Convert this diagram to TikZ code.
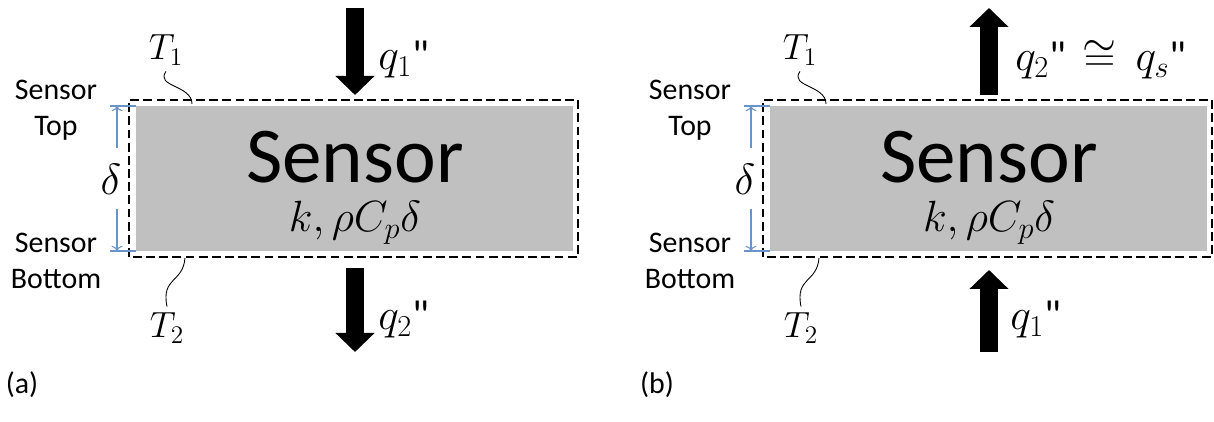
\documentclass[tikz,border=0pt]{standalone}
\usepackage{fontspec}
\setmainfont{Carlito}
\newfontfamily\dittofont{Carlito}[Ligatures=TeXOff]
\usepackage{amsmath}
\usepackage{amssymb}
\usetikzlibrary{positioning, calc, arrows.meta}

\newcommand{\ditto}{{\dittofont"}}

\begin{document}
\begin{tikzpicture}[
  font=\fontsize{17}{20.4}\selectfont,
  fluxarrow/.style={line width=0.36cm, -{Triangle[width=0.76cm, length=0.38cm]}},
  dimline/.style={cdim, line width=0.6pt},
  mathlbl/.style={font=\fontsize{24}{28}\selectfont},
  sidelbl/.style={align=center},
  bigname/.style={font=\fontsize{45}{50}\selectfont, inner sep=0},
]
\definecolor{cfill}{HTML}{C0C0C0}   % sensor body
\definecolor{cdim}{HTML}{6A93C9}    % thickness marker

\useasboundingbox (0,0) rectangle (24.28,8.44);

% =====================================================================
% (a) heat flux going down through the sensor
% =====================================================================
\begin{scope}[shift={(0,0)}]
  % sensor body and control surface
  \fill[cfill] (2.72,3.42) rectangle (11.46,6.32);
  \draw[black, line width=1.1pt, dash pattern=on 5pt off 2.5pt] (2.58,3.30) rectangle (11.56,6.44);

  \node[bigname] (nameA) at (7.10,5.30) {Sensor};
  \node[font=\fontsize{23}{26}\selectfont, inner sep=0] (propA) at (7.10,3.98) {$k,\rho C_p\delta$};

  % thickness delta
  \coordinate (dTopA) at (2.34,6.32);
  \coordinate (dBotA) at (2.34,3.42);
  \coordinate (gTopA) at (2.34,5.48);
  \coordinate (gBotA) at (2.34,4.26);
  \draw[dimline] (2.20,6.32) -- (2.72,6.32);
  \draw[dimline] (2.20,3.42) -- (2.72,3.42);
  \draw[dimline, -{To[length=3pt]}] (gTopA) -- (dTopA);
  \draw[dimline, -{To[length=3pt]}] (gBotA) -- (dBotA);
  \node[font=\fontsize{26}{30}\selectfont] (deltaA) at (2.22,4.86) {$\delta$};

  % side labels
  \node[sidelbl] (sTopA) at (1.12,6.24) {Sensor\\Top};
  \node[sidelbl] (sBotA) at (1.12,3.22) {Sensor\\Bottom};

  % surface temperatures
  \node[font=\fontsize{22}{26}\selectfont] (t1A) at (3.32,7.44) {$T_1$};
  \node[font=\fontsize{22}{26}\selectfont] (t2A) at (3.34,1.88) {$T_2$};
  \draw[line width=0.5pt] (t1A.south) .. controls (3.10,6.70) and (3.84,6.74) .. (3.84,6.36);
  \draw[line width=0.5pt] (3.70,3.28) .. controls (3.66,2.78) and (3.22,2.90) .. (t2A.north);

  % heat flux arrows
  \coordinate (inTopA) at (7.10,8.28);
  \coordinate (inTipA) at (7.10,6.54);
  \coordinate (outTopA) at (7.10,3.08);
  \coordinate (outTipA) at (7.10,1.40);
  \draw[fluxarrow] (inTopA) -- (inTipA);
  \draw[fluxarrow] (outTopA) -- (outTipA);
  \node[mathlbl, anchor=west, inner sep=0] (q1A) at (7.56,7.24) {$q_1$\ditto};
  \node[mathlbl, anchor=west, inner sep=0] (q2A) at (7.56,2.04) {$q_2$\ditto};

  \node (capA) at (0.44,0.74) {(a)};
\end{scope}

% =====================================================================
% (b) heat flux going up through the sensor
% =====================================================================
\begin{scope}[shift={(12.68,0)}]
  \fill[cfill] (2.72,3.42) rectangle (11.46,6.32);
  \draw[black, line width=1.1pt, dash pattern=on 5pt off 2.5pt] (2.58,3.30) rectangle (11.56,6.44);

  \node[bigname] (nameB) at (7.10,5.30) {Sensor};
  \node[font=\fontsize{23}{26}\selectfont, inner sep=0] (propB) at (7.10,3.98) {$k,\rho C_p\delta$};

  \coordinate (dTopB) at (2.34,6.32);
  \coordinate (dBotB) at (2.34,3.42);
  \coordinate (gTopB) at (2.34,5.48);
  \coordinate (gBotB) at (2.34,4.26);
  \draw[dimline] (2.20,6.32) -- (2.72,6.32);
  \draw[dimline] (2.20,3.42) -- (2.72,3.42);
  \draw[dimline, -{To[length=3pt]}] (gTopB) -- (dTopB);
  \draw[dimline, -{To[length=3pt]}] (gBotB) -- (dBotB);
  \node[font=\fontsize{26}{30}\selectfont] (deltaB) at (2.22,4.86) {$\delta$};

  \node[sidelbl] (sTopB) at (1.12,6.24) {Sensor\\Top};
  \node[sidelbl] (sBotB) at (1.12,3.22) {Sensor\\Bottom};

  \node[font=\fontsize{22}{26}\selectfont] (t1B) at (3.32,7.44) {$T_1$};
  \node[font=\fontsize{22}{26}\selectfont] (t2B) at (3.34,1.88) {$T_2$};
  \draw[line width=0.5pt] (t1B.south) .. controls (3.10,6.70) and (3.84,6.74) .. (3.84,6.36);
  \draw[line width=0.5pt] (3.70,3.28) .. controls (3.66,2.78) and (3.22,2.90) .. (t2B.north);

  \coordinate (outBaseB) at (7.10,6.54);
  \coordinate (outTipB) at (7.10,8.28);
  \coordinate (inBaseB) at (7.10,1.40);
  \coordinate (inTipB) at (7.10,3.04);
  \draw[fluxarrow] (outBaseB) -- (outTipB);
  \draw[fluxarrow] (inBaseB) -- (inTipB);
  \node[mathlbl, anchor=west, inner sep=0] (q2B) at (7.62,7.24) {$q_2$\ditto\ \,$\cong$\ \ $q_s$\ditto};
  \node[mathlbl, anchor=west, inner sep=0] (q1B) at (7.52,2.04) {$q_1$\ditto};

  \node (capB) at (0.46,0.74) {(b)};
\end{scope}

\end{tikzpicture}
\end{document}
